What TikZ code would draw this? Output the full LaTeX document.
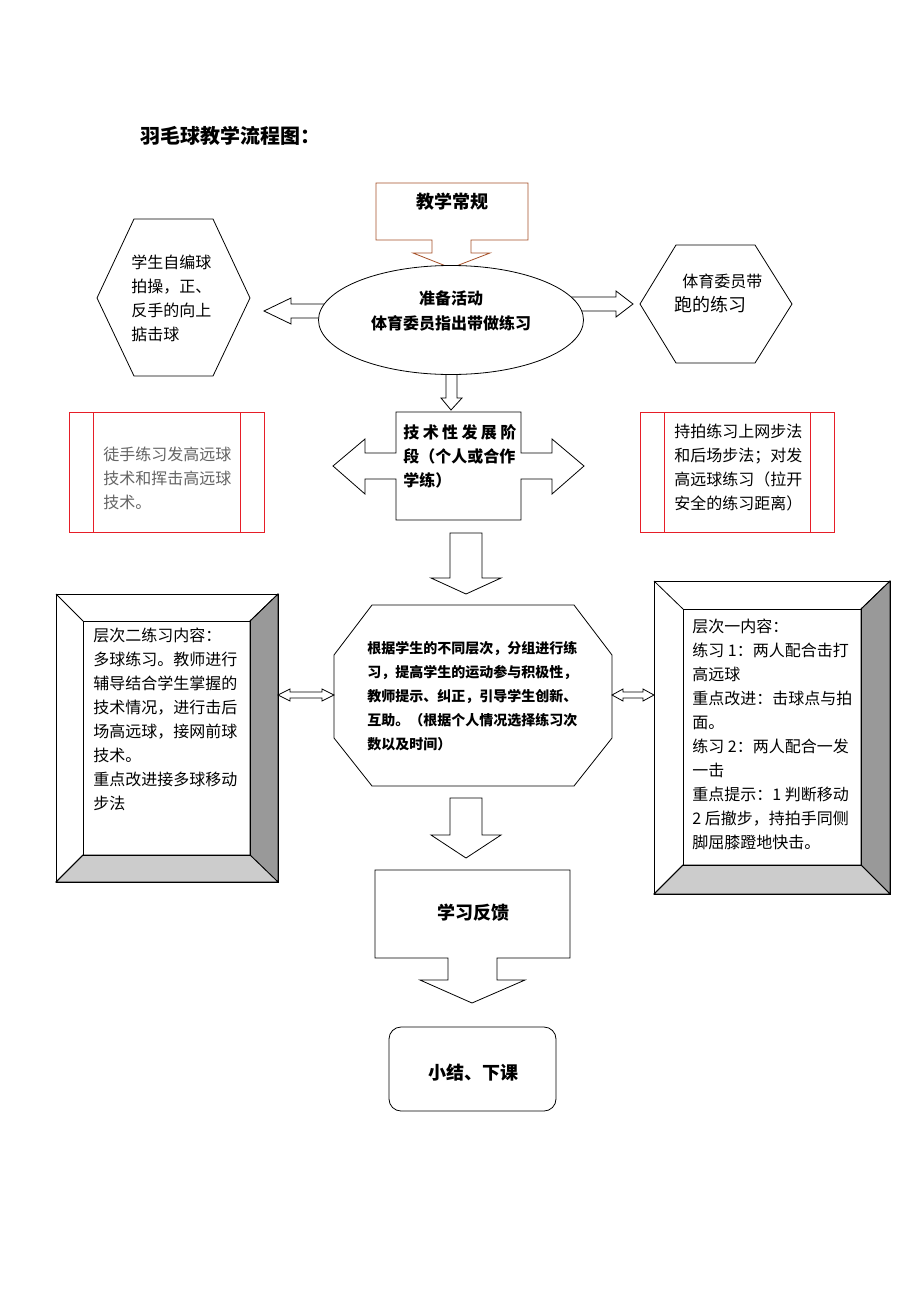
\documentclass[tikz,border=0pt]{standalone}
\usepackage{fontspec}
\setmainfont{Noto Sans CJK SC}
\usetikzlibrary{shapes.geometric}
\definecolor{brownline}{RGB}{165,80,40}
\definecolor{redline}{RGB}{230,30,40}
\definecolor{bevdark}{RGB}{153,153,153}
\definecolor{bevlight}{RGB}{204,204,204}
\definecolor{graytext}{RGB}{100,100,100}
\newcommand{\mybevel}[8]{%
  \fill[white] (#1,#2) rectangle (#3,#4);
  \filldraw[fill=bevdark] (#3,#2) -- (#7,#6) -- (#7,#8) -- (#3,#4) -- cycle;
  \filldraw[fill=bevlight] (#1,#4) -- (#5,#8) -- (#7,#8) -- (#3,#4) -- cycle;
  \draw (#1,#2) rectangle (#3,#4);
  \draw (#5,#6) rectangle (#7,#8);
  \draw (#1,#2) -- (#5,#6);
  \draw (#1,#4) -- (#5,#8);
  \draw (#3,#2) -- (#7,#6);
}
\begin{document}
\begin{tikzpicture}[x=1pt,y=-1pt,line width=0.8pt,
  txt/.style={inner sep=0pt, anchor=north west, align=left, font=\fontsize{16}{24}\selectfont},
  btxt/.style={inner sep=0pt, align=center, font=\fontsize{16}{25}\selectfont\bfseries},
  blockarrow/.style={draw, fill=white}]
\useasboundingbox (0,0) rectangle (920,1302);
\fill[white] (0,0) rectangle (920,1302);

% title
\node[anchor=west, inner sep=0pt, font=\fontsize{20}{24}\selectfont\bfseries] (title) at (140,136) {羽毛球教学流程图：};

% callout 教学常规
\filldraw[draw=brownline, fill=white] (376,183) -- (528,183) -- (528,240) -- (471,240) -- (471,253) -- (490,253) -- (451,268) -- (413,253) -- (432,253) -- (432,240) -- (376,240) -- cycle;
\node[btxt, font=\fontsize{18}{22}\selectfont\bfseries] (routine) at (452,202) {教学常规};

% arrows from ellipse
\filldraw[blockarrow] (335,304) -- (291,304) -- (291,298) -- (264,311) -- (291,324) -- (291,318) -- (335,318) -- cycle;
\filldraw[blockarrow] (570,297) -- (616,297) -- (616,291) -- (633,304) -- (616,317) -- (616,311) -- (570,311) -- cycle;
\filldraw[blockarrow] (446,360) -- (446,398) -- (441,398) -- (451,410) -- (462,398) -- (457,398) -- (457,360) -- cycle;

% ellipse
\node[draw, fill=white, ellipse, minimum width=265pt, minimum height=109pt, inner sep=0pt] (prep) at (451,320) {};
\node[btxt] (preptext) at (451,311) {准备活动\\体育委员指出带做练习};

% hexagons
\draw (97,298) -- (134,219) -- (213,219) -- (250,298) -- (213,376) -- (134,376) -- cycle;
\node[txt] (lhex) at (131,255) {学生自编球\\拍操，正、\\反手的向上\\掂击球};
\draw (640,304) -- (676,245) -- (755,245) -- (792,304) -- (755,363) -- (676,363) -- cycle;
\node[anchor=west, inner sep=0pt, font=\fontsize{16}{20}\selectfont] (rhex1) at (682,281) {体育委员带};
\node[anchor=west, inner sep=0pt, font=\fontsize{18}{22}\selectfont] (rhex2) at (674,305) {跑的练习};

% 技术性 box with double arrows
\draw (396,412) -- (521,412) -- (521,453) -- (552,453) -- (552,439) -- (584,466) -- (552,494) -- (552,479) -- (521,479) -- (521,520) -- (396,520) -- (396,479) -- (365,479) -- (365,494) -- (333,466) -- (365,439) -- (365,453) -- (396,453) -- cycle;
\node[txt, font=\fontsize{16}{24}\selectfont\bfseries] (tech) at (403,424) {技\hspace{3.4pt}术\hspace{3.4pt}性\hspace{3.4pt}发\hspace{3.4pt}展\hspace{3.4pt}阶\\段（个人或合作\\学练）};

% red boxes
\draw[redline] (69,412) rectangle (264,532);
\draw[redline] (93,412) -- (93,532);
\draw[redline] (240,412) -- (240,532);
\node[txt, text=graytext] (lred) at (103,447) {徒手练习发高远球\\技术和挥击高远球\\技术。};
\draw[redline] (640,412) rectangle (834,532);
\draw[redline] (664,412) -- (664,532);
\draw[redline] (810,412) -- (810,532);
\node[txt] (rred) at (674,424) {持拍练习上网步法\\和后场步法；对发\\高远球练习（拉开\\安全的练习距离）};

% big arrow 1
\draw (450,533) -- (482,533) -- (482,578) -- (501,578) -- (466,594) -- (431,578) -- (450,578) -- cycle;

% bevel boxes
\mybevel{56}{594}{278}{882}{83}{621}{250}{855}
\node[txt] (lbev) at (93,628) {层次二练习内容：\\多球练习。教师进行\\辅导结合学生掌握的\\技术情况，进行击后\\场高远球，接网前球\\技术。\\重点改进接多球移动\\步法};
\mybevel{654}{581}{890}{894}{683}{609}{861}{865}
\node[txt] (rbev) at (692,619) {层次一内容：\\练习 1：两人配合击打\\高远球\\重点改进：击球点与拍\\面。\\练习 2：两人配合一发\\一击\\重点提示：1 判断移动\\2 后撤步，持拍手同侧\\脚屈膝蹬地快击。};

% octagon
\draw (372,605) -- (574,605) -- (612,655) -- (612,738) -- (574,786) -- (372,786) -- (334,738) -- (334,655) -- cycle;
\node[txt, font=\fontsize{14}{24}\selectfont\bfseries] (oct) at (367,641) {根据学生的不同层次，分组进行练\\习，提高学生的运动参与积极性，\\教师提示、纠正，引导学生创新、\\互助。（根据个人情况选择练习次\\数以及时间）};

% small double arrows
\draw (278,695) -- (290,689) -- (290,692) -- (322,692) -- (322,689) -- (334,695) -- (322,701) -- (322,698) -- (290,698) -- (290,701) -- cycle;
\draw (612,695) -- (623,689) -- (623,692) -- (643,692) -- (643,689) -- (654,695) -- (643,701) -- (643,698) -- (623,698) -- (623,701) -- cycle;

% big arrow 2
\draw (450,798) -- (482,798) -- (482,835) -- (501,835) -- (466,858) -- (431,835) -- (450,835) -- cycle;

% callout 学习反馈
\draw (375,870) -- (570,870) -- (570,958) -- (497,958) -- (497,980) -- (525,980) -- (472,1003) -- (420,980) -- (448,980) -- (448,958) -- (375,958) -- cycle;
\node[btxt, font=\fontsize{18}{22}\selectfont\bfseries] (feedback) at (473,913) {学习反馈};

% end
\draw[rounded corners=12pt] (389,1027) rectangle (556,1111);
\node[btxt, font=\fontsize{18}{22}\selectfont\bfseries] (endnode) at (473,1073) {小结、下课};
\end{tikzpicture}
\end{document}
